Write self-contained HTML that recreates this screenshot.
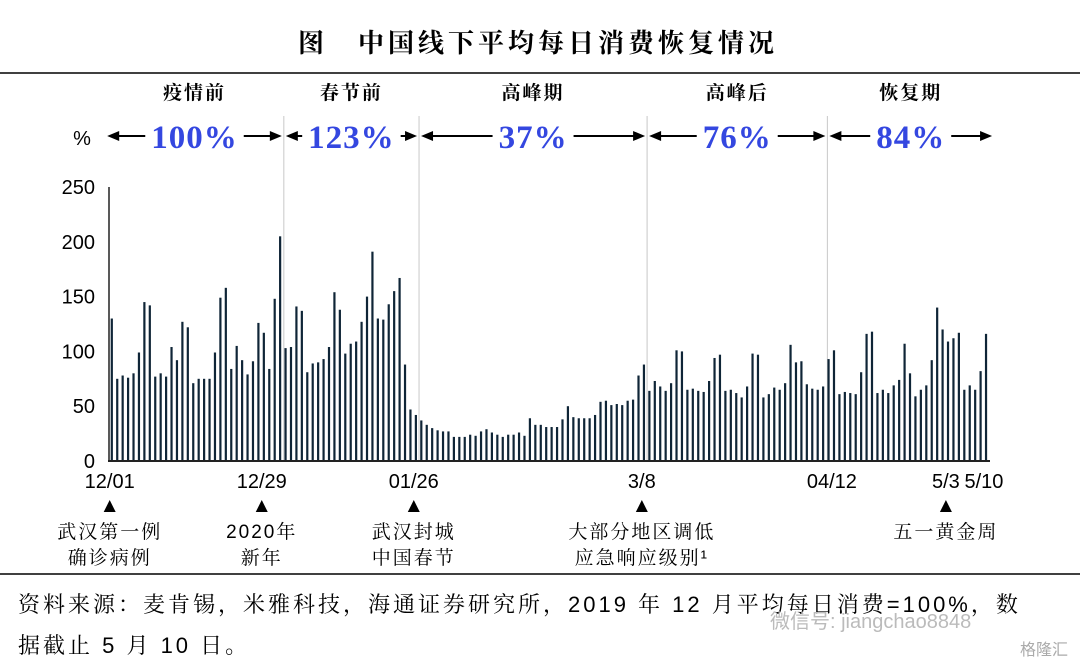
<!DOCTYPE html>
<html><head><meta charset="utf-8">
<style>
body{margin:0;background:#fff;width:1080px;height:665px;overflow:hidden;font-family:"Liberation Sans","Noto Sans CJK SC",sans-serif;}
svg{display:block}
</style></head>
<body>
<svg id="chart" width="1080" height="665" viewBox="0 0 1080 665" xmlns="http://www.w3.org/2000/svg">
<text x="538" y="52" text-anchor="middle" font-family="Liberation Serif, Noto Serif CJK SC, serif" font-weight="bold" font-size="26" letter-spacing="4" fill="#000">图　中国线下平均每日消费恢复情况</text>
<line x1="0" y1="73" x2="1080" y2="73" stroke="#000" stroke-width="1.5"/>
<line x1="0" y1="574" x2="1080" y2="574" stroke="#000" stroke-width="1.5"/>
<text x="82" y="145" text-anchor="middle" font-size="20">%</text>
<g id="plot"></g>
<text x="18" y="612" font-size="22" letter-spacing="3" font-family="Liberation Sans, Noto Serif CJK SC, serif">资料来源：麦肯锡，米雅科技，海通证券研究所，2019 年 12 月平均每日消费=100%，数</text>
<text x="18" y="653" font-size="22" letter-spacing="3" font-family="Liberation Sans, Noto Serif CJK SC, serif">据截止 5 月 10 日。</text>
<text x="770" y="628" font-size="20" fill="#bbb">微信号: jiangchao8848</text>
<text x="1020" y="655" font-size="16" fill="#aaa">格隆汇</text>
</svg>
<script>
const values = [130,75,78,76,80,99,145,142,77,80,77,104,92,127,122,71,75,75,75,99,149,158,84,105,92,79,91,126,117,84,148,205,103,104,141,137,81,89,90,93,104,154,138,98,107,109,127,150,191,130,129,143,155,167,88,47,42,37,33,30,28,27,27,22,22,22,24,23,27,29,26,24,22,24,24,26,23,39,33,33,31,31,31,38,50,40,39,39,39,42,54,55,51,52,51,55,56,78,88,64,73,68,64,71,101,100,65,66,64,63,73,94,97,64,65,62,58,68,98,97,58,61,67,65,71,106,90,91,70,66,65,68,93,101,61,63,62,61,81,116,118,62,65,62,69,74,107,80,59,65,69,92,140,120,109,112,117,65,69,65,82,116];
const yTicks = [0,50,100,150,200,250];
const xTickLabels = ["12/01","12/29","01/26","3/8","04/12","5/3","5/10"];
const xTickIndex = [0,28,56,98,133,154,161];
const phaseNames = ["疫情前","春节前","高峰期","高峰后","恢复期"];
const phaseValues = ["100%","123%","37%","76%","84%"];
const phaseBounds = [-1.2,31.7,56.6,98.6,131.8,162.5];
const eventIndex = [0,28,56,98,154];
const eventLine1 = ["武汉第一例","2020年","武汉封城","大部分地区调低","五一黄金周"];
const eventLine2 = ["确诊病例","新年","中国春节","应急响应级别¹",""];

const NS="http://www.w3.org/2000/svg";
const g=document.getElementById('plot');
const X0=111.7, DX=5.43, Y0=461, YS=1.096;
const xs=i=>X0+i*DX, ys=v=>Y0-v*YS;
const SERIF="Liberation Serif, Noto Serif CJK SC, serif";
const MIX="Liberation Sans, Noto Serif CJK SC, serif";
function mk(tag,attrs,txt){const e=document.createElementNS(NS,tag);for(const k in attrs)e.setAttribute(k,attrs[k]);if(txt!==undefined)e.textContent=txt;g.appendChild(e);return e;}

for(let k=1;k<phaseBounds.length-1;k++){
  const l=mk('line',{x1:xs(phaseBounds[k]),x2:xs(phaseBounds[k]),y1:116,y2:Y0,stroke:'#c8c8c8','stroke-width':1});
  
  
}
values.forEach((v,i)=>{
  const r=mk('rect',{x:xs(i)-1,y:ys(v),width:2.2,height:v*YS,fill:'#0f2537'});
  
  
});
const ya=mk('line',{x1:109,x2:109,y1:ys(250),y2:Y0,stroke:'#222','stroke-width':1.5});


const xa=mk('line',{x1:108,x2:990,y1:Y0,y2:Y0,stroke:'#222','stroke-width':2});


yTicks.forEach(t=>{
  const e=mk('text',{x:95,y:ys(t)+7,'text-anchor':'end','font-size':20,fill:'#000'},String(t));
  
  
});
xTickLabels.forEach((t,k)=>{
  const e=mk('text',{x:xs(xTickIndex[k])-2,y:488,'text-anchor':'middle','font-size':20,fill:'#000'},t);
  
  
});
eventIndex.forEach((idx,k)=>{
  const cx=xs(idx)-2;
  const tri=mk('polygon',{points:`${cx-6},${512} ${cx+6},${512} ${cx},${500}`,fill:'#000'});
  
  
  const t1=mk('text',{x:cx,y:538,'text-anchor':'middle','font-size':19,'letter-spacing':2,fill:'#000','font-family':MIX},eventLine1[k]);
  
  
  if(eventLine2[k]){
    const t2=mk('text',{x:cx,y:564,'text-anchor':'middle','font-size':19,'letter-spacing':2,fill:'#000','font-family':MIX},eventLine2[k]);
    
    
  }
});
const AY=136;
phaseNames.forEach((n,k)=>{
  const a=xs(phaseBounds[k]), b=xs(phaseBounds[k+1]);
  const cx=(a+b)/2;
  const h=mk('text',{x:cx,y:99,'text-anchor':'middle','font-size':19,'font-weight':'bold','letter-spacing':2,'font-family':SERIF},n);
  
  
  const p=mk('text',{x:cx,y:148,'text-anchor':'middle','font-size':33,'font-weight':'bold','letter-spacing':1,fill:'#3447e0','font-family':'Liberation Serif, serif'},phaseValues[k]);
  
  
  const w=p.getComputedTextLength()/2+6;
  const la=a+2, rb=b-2;
  [[cx-w,la],[cx+w,rb]].forEach(([s,e])=>{
    const l=mk('line',{x1:s,x2:e+(e<s?8:-8),y1:AY,y2:AY,stroke:'#000','stroke-width':2});
    
    
    const d=e<s?1:-1;
    const hd=mk('polygon',{points:`${e},${AY} ${e+d*12},${AY-5} ${e+d*12},${AY+5}`,fill:'#000'});
    
    
  });
});
</script>
</body></html>
